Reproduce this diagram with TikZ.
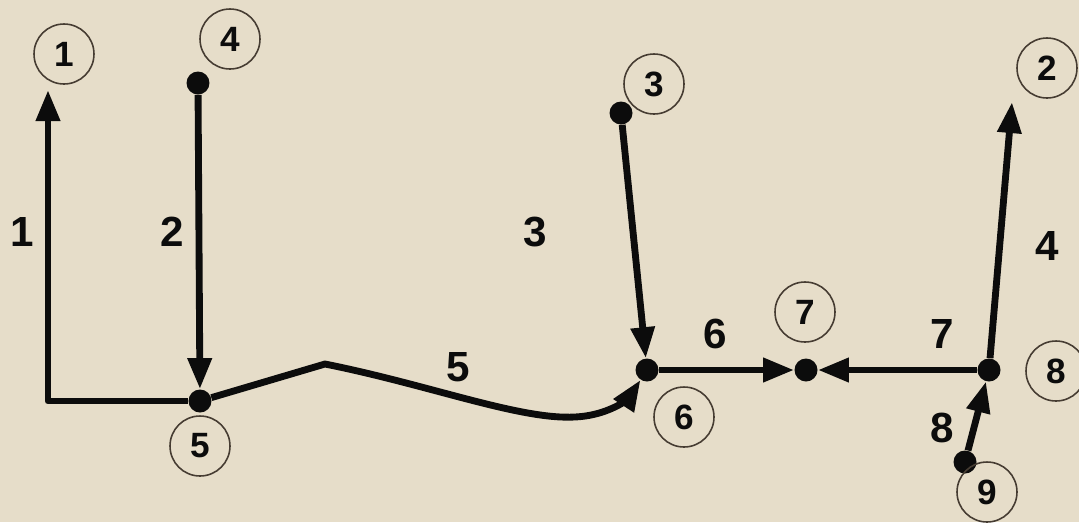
\documentclass[tikz,border=0pt]{standalone}
\usepackage{fontspec}
\setmainfont{Liberation Sans}
\usetikzlibrary{arrows.meta}
\definecolor{cloth}{RGB}{230,221,201}
\definecolor{ink}{RGB}{12,12,12}
\definecolor{ring}{RGB}{70,60,50}
\tikzset{
  num/.style={circle,draw=ring,line width=0.9pt,minimum size=1.2cm,inner sep=0pt,
    font=\fontsize{20}{22}\selectfont\bfseries,text=ink},
  junc/.style={circle,fill=ink,minimum size=0.46cm,inner sep=0pt},
  lbl/.style={font=\fontsize{24}{26}\selectfont\bfseries,text=ink},
  pipe/.style={line width=3.9pt,draw=ink,line join=round},
  flow/.style={pipe,-{Triangle[length=0.62cm,width=0.46cm]}},
}

\begin{document}
\begin{tikzpicture}[x=0.02cm,y=-0.02cm]
\fill[cloth] (0,0) rectangle (1079,522);
\useasboundingbox (0,0) rectangle (1079,522);

% junctions
\node[junc] (d4) at (198,83) {};
\node[junc] (d5) at (200,401) {};
\node[junc] (d3) at (621,113) {};
\node[junc] (d6) at (647,370) {};
\node[junc] (d7) at (806,370) {};
\node[junc] (d8) at (989,370) {};
\node[junc] (d9) at (965,462) {};
\coordinate (k1) at (48,401);
\coordinate (t1) at (48,90);
\coordinate (t2) at (1012,102);

% circled numbers
\node[num] (c1) at (64,54) {1};
\node[num] (c2) at (1047,68) {2};
\node[num] (c3) at (654,84) {3};
\node[num] (c4) at (230,39) {4};
\node[num] (c5) at (200,446) {5};
\node[num] (c6) at (684,417) {6};
\node[num] (c7) at (805,312) {7};
\node[num] (c8) at (1056,371) {8};
\node[num] (c9) at (987,492) {9};

% branch labels
\node[lbl] (l1) at (22,232) {1};
\node[lbl] (l2) at (172,232) {2};
\node[lbl] (l3) at (535,232) {3};
\node[lbl] (l4) at (1047,246) {4};
\node[lbl] (l5) at (458,367) {5};
\node[lbl] (l6) at (715,334) {6};
\node[lbl] (l7) at (942,334) {7};
\node[lbl] (l8) at (942,428) {8};

% branches
\draw[flow] (d5) -- (k1) -- (t1);
\draw[flow] (d4) -- (d5);
\draw[flow] (d5) -- (325,364) .. controls (430,385) and (520,420) .. (575,417)
  .. controls (615,415) and (632,393) .. (d6);
\draw[flow] (d3) -- (d6);
\draw[flow] (d6) -- (d7);
\draw[flow] (d8) -- (d7);
\draw[flow] (d8) -- (t2);
\draw[flow] (d9) -- (d8);
\end{tikzpicture}
\end{document}
